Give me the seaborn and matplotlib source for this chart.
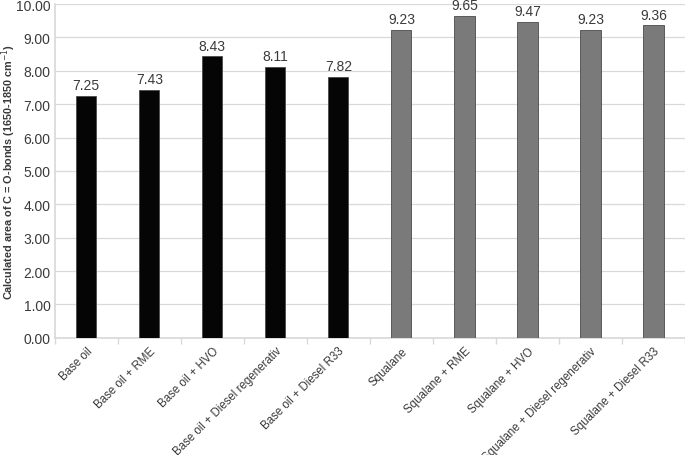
import matplotlib
matplotlib.use("Agg")
import matplotlib.pyplot as plt
import seaborn as sns
import pandas as pd
import numpy as np
from matplotlib import font_manager

# data
samples = ['Base oil', 'Base oil + RME', 'Base oil + HVO', 'Base oil + Diesel regenerativ',
           'Base oil + Diesel R33', 'Squalane', 'Squalane + RME', 'Squalane + HVO',
           'Squalane + Diesel regenerativ', 'Squalane + Diesel R33']
areas = [7.25, 7.43, 8.43, 8.11, 7.82, 9.23, 9.65, 9.47, 9.23, 9.36]
group = ['Base oil'] * 5 + ['Squalane'] * 5

df = pd.DataFrame({'sample': samples, 'area': areas, 'group': group})

sns.set_theme(style='white')
plt.rcParams['font.family'] = ['Liberation Sans', 'DejaVu Sans']
names = {f.name for f in font_manager.fontManager.ttflist}
if 'Liberation Sans Narrow' in names:
    ylab_font, ylab_size = 'Liberation Sans Narrow', 10.2
else:
    ylab_font, ylab_size = 'Liberation Sans', 7.8
txt = '#3a3a3a'

fig = plt.figure(figsize=(6.85, 4.56), dpi=100)
ax = fig.add_axes([0.080, 0.257, 0.92, 0.732])

sns.barplot(data=df, x='sample', y='area', hue='group',
            palette={'Base oil': '#050505', 'Squalane': '#7a7a7a'},
            width=0.32, dodge=False, legend=False, ax=ax,
            edgecolor='#4a4a4a', linewidth=0.6, zorder=3)

for p, v in zip(ax.patches, areas):
    ax.text(p.get_x() + p.get_width() / 2, v + 0.11, f'{v:.2f}',
            ha='center', va='bottom', fontsize=10, color=txt)

ax.set_ylim(0, 10)
ax.set_xlim(-0.5, len(samples) - 0.5)
ax.set_yticks(np.arange(0, 10.5, 1))
ax.set_yticklabels([f'{t:.2f}' for t in np.arange(0, 10.5, 1)], fontsize=10, color=txt)
ax.yaxis.grid(True, color='#d9d9d9', linewidth=0.9, zorder=0)
ax.set_axisbelow(True)

ax.set_xticks(range(len(samples)))
ax.set_xticklabels(samples, rotation=45, ha='right', rotation_mode='anchor',
                   fontsize=8.3, color=txt)
ax.tick_params(axis='x', length=0, pad=5)
ax.set_xticks(np.arange(-0.5, len(samples), 1), minor=True)
ax.tick_params(axis='x', which='minor', length=4, color='#d9d9d9', bottom=True)
ax.tick_params(axis='y', length=0, pad=3)

ax.set_xlabel('')
ax.set_ylabel('Calculated area of C = O-bonds (1650-1850 cm$^{-1}$)',
              fontsize=ylab_size, fontweight='bold', color=txt,
              family=[ylab_font, 'DejaVu Sans'])
ax.yaxis.set_label_coords(-0.073, 0.5)
ax.yaxis.label.set_verticalalignment('center')

for s in ['top', 'right']:
    ax.spines[s].set_visible(False)
ax.spines['left'].set_color('#d9d9d9')
ax.spines['bottom'].set_color('#d9d9d9')

fig.savefig('out.png', dpi=100)
